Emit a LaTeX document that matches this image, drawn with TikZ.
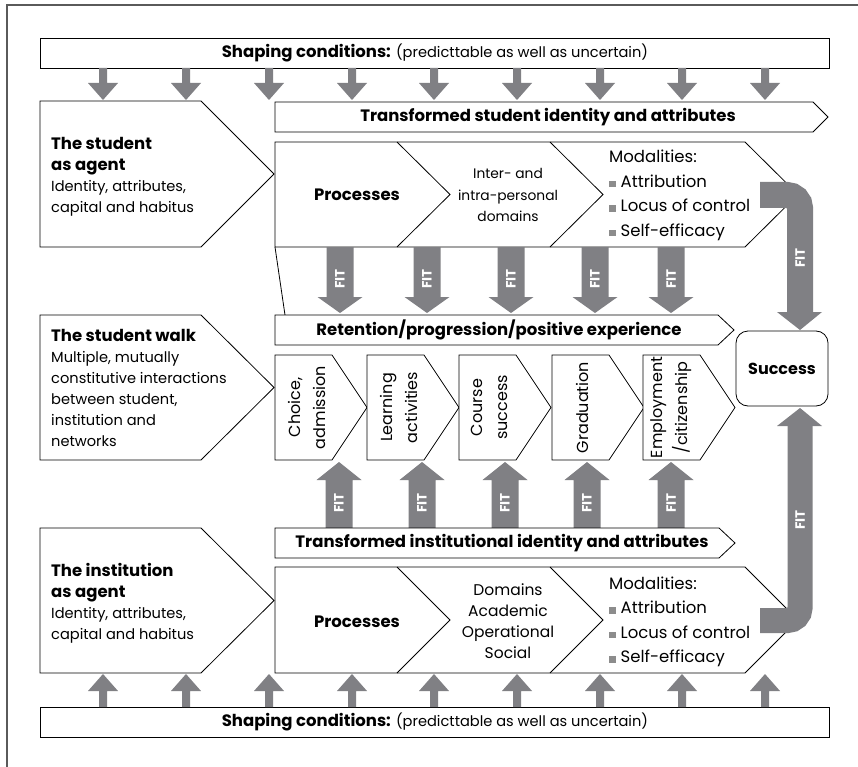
\documentclass[tikz,border=0pt]{standalone}
\usepackage{fontspec}
\setmainfont{Poppins}
\definecolor{agray}{RGB}{128,128,132}
\definecolor{bgray}{RGB}{140,140,140}
\definecolor{fgray}{RGB}{90,90,90}
\newcommand{\bul}{\textcolor{bgray}{\rule{6.5pt}{6.5pt}}\hspace{5pt}}
\newcommand{\hb}[1]{{\bfseries\fontsize{16.5}{21}\selectfont #1}}
\tikzset{
  shp/.style={draw=black, line width=0.8pt, fill=white, line join=miter},
  fitlbl/.style={text=white, font=\bfseries\fontsize{13.5}{14}\selectfont, rotate=90, inner sep=0},
  txt/.style={font=\fontsize{14.6}{21}\selectfont, inner sep=0},
  sdomtxt/.style={font=\fontsize{13.8}{21.5}\selectfont, inner sep=0, align=center},
  domtxt/.style={font=\fontsize{15.5}{21}\selectfont, inner sep=0, align=center},
  modtxt/.style={font=\fontsize{16.5}{24.5}\selectfont, inner sep=0, align=left, anchor=west},
  steptxt/.style={font=\fontsize{16}{25}\selectfont, inner sep=0, align=center, rotate=90},
  bandtxt/.style={font=\bfseries\fontsize{16.5}{18}\selectfont, inner sep=0},
  shapetxt/.style={shp, anchor=north west, minimum width=789pt, minimum height=30pt, inner sep=0, font=\fontsize{14.6}{16}\selectfont},
}
\begin{document}
\begin{tikzpicture}[x=1pt,y=-1pt]
\useasboundingbox (0,0) rectangle (858,767);
\fill[white] (0,0) rectangle (858,767);
\draw[fgray, line width=1.2pt] (7,767) -- (7,5) -- (858,5);

% shaping conditions
\node[shapetxt] (topshape) at (40,38) {\hb{Shaping conditions:} (predicttable as well as uncertain)};
\node[shapetxt] (botshape) at (40,707) {\hb{Shaping conditions:} (predicttable as well as uncertain)};
\foreach \x in {103,186,269,352,434,517,600,682,765} {
  \fill[agray] (\x-4,68) -- (\x+4,68) -- (\x+4,83) -- (\x+15,83) -- (\x,100) -- (\x-15,83) -- (\x-4,83) -- cycle;
  \fill[agray] (\x-4,707) -- (\x+4,707) -- (\x+4,691) -- (\x+15,691) -- (\x,674) -- (\x-15,691) -- (\x-4,691) -- cycle;
}

% student as agent
\draw[shp] (40,101) -- (201,101) -- (274,174) -- (201,247) -- (40,247) -- cycle;
\node[txt, align=left, anchor=north west] (sagent) at (51,137) {\hb{The student}\\\hb{as agent}\\Identity, attributes,\\capital and habitus};

% transformed student band
\draw[shp] (275,102) -- (813,102) -- (828,117) -- (813,132) -- (275,132) -- cycle;
\node[bandtxt] (sband) at (548,117) {Transformed student identity and attributes};

% student processes
\draw[shp] (275,142) -- (745,142) -- (798,194.5) -- (745,247) -- (275,247) -- cycle;
\draw[shp] (397,142) -- (450,194.5) -- (397,247);
\draw[shp] (550,142) -- (603,194.5) -- (550,247);
\node[bandtxt] (sproc) at (357,195) {Processes};
\node[sdomtxt] (sdom) at (508,195) {Inter- and\\intra-personal\\domains};
\node[modtxt] (smod) at (609,195.5) {Modalities:\\\bul Attribution\\\bul Locus of control\\\bul Self-efficacy};

% thin line
\draw[line width=0.8pt] (275,247) -- (285,315);

% retention band
\draw[shp] (275,315) -- (718,315) -- (734,330) -- (718,345) -- (275,345) -- cycle;
\node[bandtxt] (ret) at (499,330) {Retention/progression/positive experience};

% student walk
\draw[shp] (40,315) -- (201,315) -- (274,387.5) -- (201,460) -- (40,460) -- cycle;
\node[txt, align=left, anchor=north west] (swalk) at (51,329) {\hb{The student walk}\\Multiple, mutually\\constitutive interactions\\between student,\\institution and\\networks};

% steps
\foreach \l/\o/\t [count=\i] in {275/32/{Choice,\\admission}, 367/32/{Learning\\activities}, 459/30/{Course\\success}, 552/30/{Graduation}, 643/28/{Employment\\/citizenship}} {
  \draw[shp] (\l,355) -- (\l+57,355) -- (\l+92,407.5) -- (\l+57,460) -- (\l,460) -- cycle;
  \node[steptxt] (step\i) at (\l+\o,407.5) {\t};
}

% success
\node[draw=black, line width=0.8pt, rounded corners=12pt, minimum width=92pt, minimum height=75pt, font=\bfseries\fontsize{16}{18}\selectfont, inner sep=0] (success) at (782,368.5) {Success};

% FIT down arrows
\foreach \x [count=\i] in {340,427,511,595,671} {
  \fill[agray] (\x-13.5,247) -- (\x+13.5,247) -- (\x+13.5,297) -- (\x+22.5,297) -- (\x,313) -- (\x-22.5,297) -- (\x-13.5,297) -- cycle;
  \node[fitlbl] (fitd\i) at (\x,279) {FIT};
}
% FIT up arrows
\foreach \x [count=\i] in {339,422,505,587,671} {
  \fill[agray] (\x-13.5,528) -- (\x+13.5,528) -- (\x+13.5,480) -- (\x+22.5,480) -- (\x,462) -- (\x-22.5,480) -- (\x-13.5,480) -- cycle;
  \node[fitlbl] (fitu\i) at (\x,503) {FIT};
}

% institutional band
\draw[shp] (275,528) -- (719,528) -- (735,543) -- (719,558) -- (275,558) -- cycle;
\node[bandtxt] (iband) at (502,543) {Transformed institutional identity and attributes};

% institution processes
\draw[shp] (275,567) -- (745,567) -- (798,620) -- (745,673) -- (275,673) -- cycle;
\draw[shp] (397,567) -- (450,620) -- (397,673);
\draw[shp] (550,567) -- (603,620) -- (550,673);
\node[bandtxt] (iproc) at (357,622) {Processes};
\node[domtxt] (idom) at (508,621.5) {Domains\\Academic\\Operational\\Social};
\node[modtxt] (imod) at (609,622) {Modalities:\\\bul Attribution\\\bul Locus of control\\\bul Self-efficacy};

% institution as agent
\draw[shp] (40,528) -- (201,528) -- (274,600.5) -- (201,673) -- (40,673) -- cycle;
\node[txt, align=left, anchor=north west] (iagent) at (51,563) {\hb{The institution}\\\hb{as agent}\\Identity, attributes,\\capital and habitus};

% elbow FIT arrows
\draw[agray, line width=26pt, rounded corners=13pt] (760,195) -- (800,195) -- (800,312);
\fill[agray] (777,312) -- (822,312) -- (800,330) -- cycle;
\node[fitlbl] (fitt) at (800,258) {FIT};
\draw[agray, line width=25pt, rounded corners=12.5pt] (760,620.5) -- (800,620.5) -- (800,426);
\fill[agray] (777,426) -- (822,426) -- (800,408) -- cycle;
\node[fitlbl] (fitb) at (800,520) {FIT};
\end{tikzpicture}
\end{document}
